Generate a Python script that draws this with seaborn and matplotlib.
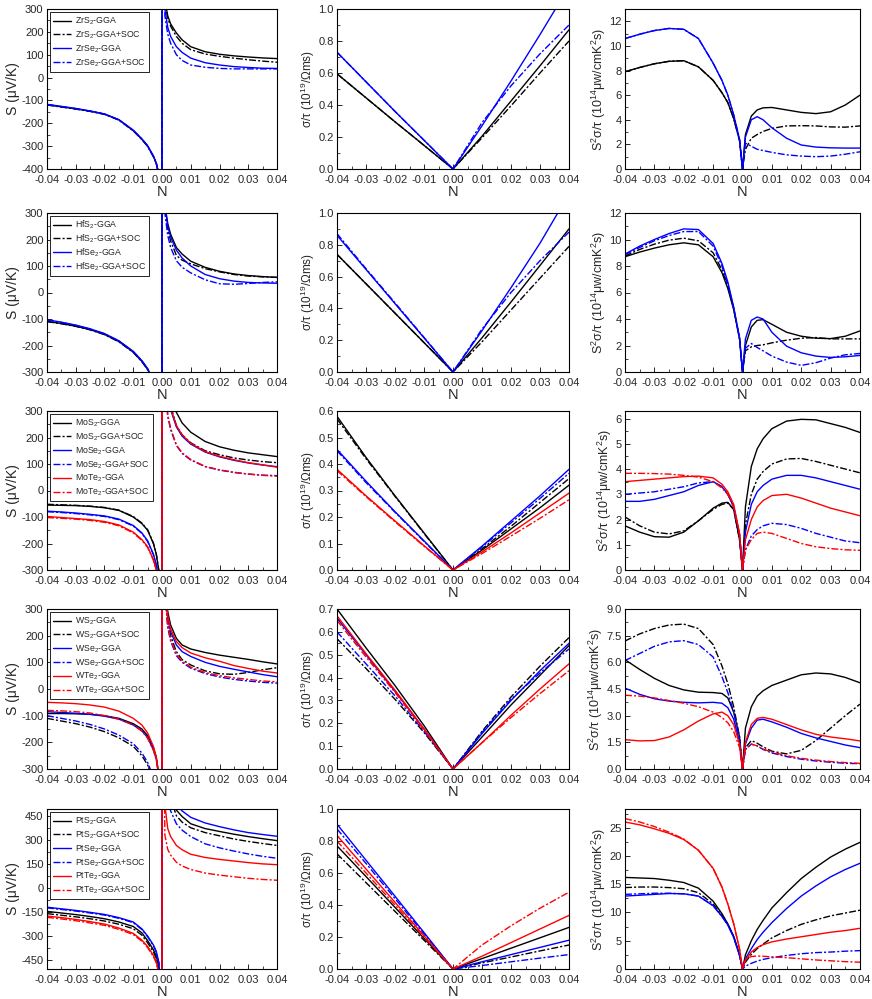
import matplotlib
matplotlib.use('Agg')
import matplotlib.pyplot as plt
import seaborn as sns
from matplotlib.ticker import MultipleLocator, FormatStrFormatter

sns.set_style('ticks')
plt.rcParams['font.family'] = ['Liberation Sans', 'DejaVu Sans']
plt.rcParams['mathtext.fontset'] = 'custom'
plt.rcParams['mathtext.rm'] = 'Liberation Sans'
plt.rcParams['mathtext.it'] = 'Liberation Sans:italic'
plt.rcParams['axes.linewidth'] = 0.8

# ---------------- carrier concentration grids (N) ----------------
n_seebeck = [-0.04, -0.035, -0.03, -0.025, -0.02, -0.015, -0.01, -0.007, -0.005, -0.003, -0.002, -0.001, 0.0,
             0.0, 0.001, 0.002, 0.003, 0.005, 0.007, 0.01, 0.015, 0.02, 0.025, 0.03, 0.035, 0.04]
n_sigma = [-0.04, -0.03, -0.02, -0.01, 0.0, 0.01, 0.02, 0.03, 0.04]
n_pf = [-0.04, -0.035, -0.03, -0.025, -0.02, -0.015, -0.01, -0.007, -0.005, -0.003, -0.001, 0.0,
        0.001, 0.003, 0.005, 0.007, 0.01, 0.015, 0.02, 0.025, 0.03, 0.035, 0.04]

# ---------------- Zr ----------------
zr_S = {
    'ZrS$_2$-GGA': [-119, -128, -137, -147, -160, -185, -232, -270, -300, -345, -375, -430, -2000,
                    2000, 340, 270, 235, 195, 165, 135, 113, 102, 95, 90, 86, 83],
    'ZrS$_2$-GGA+SOC': [-120, -129, -138, -148, -161, -186, -233, -271, -301, -346, -376, -431, -2000,
                        2000, 330, 260, 225, 180, 150, 122, 103, 93, 85, 78, 72, 67],
    'ZrSe$_2$-GGA': [-117, -126, -135, -146, -159, -184, -230, -268, -298, -343, -373, -428, -2000,
                     2000, 300, 220, 180, 135, 110, 85, 65, 55, 48, 44, 41, 40],
    'ZrSe$_2$-GGA+SOC': [-118, -127, -136, -147, -160, -185, -231, -269, -299, -344, -374, -429, -2000,
                         2000, 270, 190, 150, 100, 75, 55, 45, 40, 38, 38, 38, 38],
}
zr_sig = {
    'ZrS$_2$-GGA': [0.595, 0.445, 0.295, 0.148, 0, 0.205, 0.425, 0.645, 0.87],
    'ZrS$_2$-GGA+SOC': [0.595, 0.445, 0.295, 0.148, 0, 0.195, 0.395, 0.60, 0.80],
    'ZrSe$_2$-GGA': [0.73, 0.545, 0.36, 0.18, 0, 0.27, 0.55, 0.84, 1.14],
    'ZrSe$_2$-GGA+SOC': [0.73, 0.545, 0.36, 0.18, 0, 0.29, 0.52, 0.72, 0.90],
}
zr_pf = {
    'ZrS$_2$-GGA': [7.9, 8.25, 8.55, 8.75, 8.8, 8.3, 7.2, 6.2, 5.4, 4.1, 2.3, 0,
                    2.8, 4.3, 4.8, 4.97, 5.0, 4.8, 4.6, 4.5, 4.65, 5.2, 6.0],
    'ZrS$_2$-GGA+SOC': [7.9, 8.25, 8.55, 8.75, 8.8, 8.3, 7.2, 6.2, 5.4, 4.1, 2.3, 0,
                        1.6, 2.5, 2.8, 3.05, 3.3, 3.5, 3.52, 3.5, 3.42, 3.4, 3.5],
    'ZrSe$_2$-GGA': [10.6, 10.95, 11.25, 11.42, 11.35, 10.6, 8.6, 7.2, 6.0, 4.4, 2.4, 0,
                     2.6, 4.0, 4.25, 4.0, 3.35, 2.5, 1.95, 1.78, 1.72, 1.7, 1.7],
    'ZrSe$_2$-GGA+SOC': [10.6, 10.95, 11.25, 11.42, 11.35, 10.6, 8.6, 7.2, 6.0, 4.4, 2.4, 0,
                         2.1, 1.85, 1.6, 1.5, 1.35, 1.15, 1.05, 1.0, 1.05, 1.2, 1.4],
}

# ---------------- Hf ----------------
hf_S = {
    'HfS$_2$-GGA': [-109, -117, -127, -140, -158, -185, -225, -260, -290, -335, -370, -430, -2000,
                    2000, 330, 260, 220, 170, 145, 118, 95, 80, 70, 64, 60, 57],
    'HfS$_2$-GGA+SOC': [-110, -118, -128, -141, -159, -186, -226, -261, -291, -336, -371, -431, -2000,
                        2000, 320, 240, 195, 140, 122, 108, 90, 78, 68, 62, 59, 57],
    'HfSe$_2$-GGA': [-103, -112, -123, -137, -155, -182, -222, -257, -287, -332, -367, -427, -2000,
                     2000, 330, 250, 210, 160, 130, 100, 68, 52, 43, 38, 36, 35],
    'HfSe$_2$-GGA+SOC': [-104, -113, -124, -138, -156, -183, -223, -258, -288, -333, -368, -428, -2000,
                         2000, 300, 215, 170, 120, 95, 74, 48, 33, 31, 34, 38, 40],
}
hf_sig = {
    'HfS$_2$-GGA': [0.74, 0.555, 0.37, 0.185, 0, 0.215, 0.44, 0.67, 0.90],
    'HfS$_2$-GGA+SOC': [0.74, 0.555, 0.37, 0.185, 0, 0.19, 0.39, 0.59, 0.79],
    'HfSe$_2$-GGA': [0.86, 0.645, 0.43, 0.215, 0, 0.26, 0.53, 0.81, 1.12],
    'HfSe$_2$-GGA+SOC': [0.87, 0.65, 0.435, 0.218, 0, 0.27, 0.50, 0.70, 0.88],
}
hf_pf = {
    'HfS$_2$-GGA': [8.7, 9.05, 9.35, 9.6, 9.75, 9.6, 8.7, 7.5, 6.3, 4.7, 2.5, 0,
                    2.0, 3.4, 3.9, 3.95, 3.6, 3.0, 2.7, 2.55, 2.52, 2.7, 3.1],
    'HfS$_2$-GGA+SOC': [8.75, 9.25, 9.65, 9.95, 10.1, 9.9, 9.0, 7.7, 6.5, 4.8, 2.5, 0,
                        1.6, 1.9, 2.0, 2.05, 2.2, 2.4, 2.55, 2.6, 2.5, 2.5, 2.5],
    'HfSe$_2$-GGA': [8.9, 9.5, 10.0, 10.45, 10.8, 10.75, 9.7, 8.2, 6.8, 4.9, 2.6, 0,
                     2.5, 3.9, 4.15, 4.0, 3.0, 1.95, 1.45, 1.2, 1.1, 1.15, 1.25],
    'HfSe$_2$-GGA+SOC': [8.85, 9.4, 9.9, 10.3, 10.6, 10.6, 9.5, 8.0, 6.6, 4.8, 2.5, 0,
                         1.8, 2.15, 1.85, 1.6, 1.2, 0.75, 0.5, 0.7, 1.05, 1.3, 1.4],
}

# ---------------- Mo ----------------
mo_S = {
    'MoS$_2$-GGA': [-55, -56, -57, -60, -65, -75, -100, -125, -150, -200, -240, -310, -2000,
                    2000, 600, 450, 380, 295, 255, 220, 185, 165, 152, 142, 135, 128],
    'MoS$_2$-GGA+SOC': [-52, -54, -56, -59, -64, -74, -98, -123, -148, -198, -238, -308, -2000,
                        2000, 550, 380, 320, 245, 210, 180, 150, 135, 123, 115, 109, 105],
    'MoSe$_2$-GGA': [-78, -81, -85, -90, -96, -108, -132, -160, -190, -240, -280, -350, -2000,
                     2000, 500, 360, 305, 240, 205, 175, 145, 127, 114, 104, 96, 90],
    'MoSe$_2$-GGA+SOC': [-80, -83, -87, -92, -98, -110, -134, -162, -192, -242, -282, -352, -2000,
                         2000, 400, 280, 230, 170, 140, 115, 90, 77, 68, 62, 58, 56],
    'MoTe$_2$-GGA': [-98, -102, -106, -110, -117, -130, -157, -185, -212, -260, -300, -370, -2000,
                     2000, 510, 365, 310, 245, 210, 178, 147, 129, 116, 105, 97, 88],
    'MoTe$_2$-GGA+SOC': [-102, -105, -108, -113, -120, -133, -160, -188, -215, -263, -303, -373, -2000,
                         2000, 410, 285, 235, 172, 142, 117, 91, 78, 69, 62, 57, 54],
}
mo_sig = {
    'MoS$_2$-GGA': [0.58, 0.425, 0.28, 0.14, 0, 0.075, 0.155, 0.235, 0.32],
    'MoS$_2$-GGA+SOC': [0.57, 0.42, 0.278, 0.138, 0, 0.08, 0.165, 0.255, 0.345],
    'MoSe$_2$-GGA': [0.455, 0.335, 0.22, 0.11, 0, 0.09, 0.185, 0.28, 0.38],
    'MoSe$_2$-GGA+SOC': [0.45, 0.33, 0.218, 0.108, 0, 0.087, 0.178, 0.27, 0.365],
    'MoTe$_2$-GGA': [0.38, 0.28, 0.185, 0.092, 0, 0.068, 0.14, 0.215, 0.29],
    'MoTe$_2$-GGA+SOC': [0.375, 0.277, 0.182, 0.09, 0, 0.062, 0.128, 0.195, 0.265],
}
mo_pf = {
    'MoS$_2$-GGA': [1.75, 1.5, 1.32, 1.3, 1.5, 1.95, 2.45, 2.65, 2.68, 2.4, 1.2, 0,
                    2.5, 4.1, 4.8, 5.2, 5.6, 5.9, 5.97, 5.95, 5.8, 5.65, 5.45],
    'MoS$_2$-GGA+SOC': [2.1, 1.75, 1.5, 1.43, 1.55, 1.95, 2.4, 2.6, 2.65, 2.4, 1.2, 0,
                        1.8, 3.0, 3.6, 3.9, 4.2, 4.4, 4.42, 4.3, 4.15, 4.0, 3.85],
    'MoSe$_2$-GGA': [2.72, 2.72, 2.8, 2.95, 3.1, 3.35, 3.5, 3.3, 3.0, 2.5, 1.4, 0,
                     1.5, 2.6, 3.1, 3.35, 3.6, 3.75, 3.75, 3.65, 3.5, 3.35, 3.2],
    'MoSe$_2$-GGA+SOC': [3.0, 3.05, 3.1, 3.2, 3.3, 3.45, 3.5, 3.3, 3.0, 2.5, 1.4, 0,
                         0.8, 1.35, 1.6, 1.75, 1.85, 1.8, 1.65, 1.45, 1.3, 1.15, 1.08],
    'MoTe$_2$-GGA': [3.5, 3.55, 3.6, 3.65, 3.7, 3.72, 3.65, 3.4, 3.1, 2.6, 1.45, 0,
                     1.2, 2.0, 2.5, 2.75, 2.95, 3.0, 2.85, 2.65, 2.45, 2.3, 2.15],
    'MoTe$_2$-GGA+SOC': [3.83, 3.83, 3.82, 3.8, 3.75, 3.68, 3.5, 3.25, 3.0, 2.5, 1.4, 0,
                         0.8, 1.2, 1.45, 1.5, 1.45, 1.25, 1.05, 0.92, 0.85, 0.8, 0.78],
}

# ---------------- W ----------------
w_S = {
    'WS$_2$-GGA': [-92, -92, -93, -95, -100, -110, -130, -150, -175, -220, -255, -330, -2000,
                   2000, 400, 290, 240, 190, 165, 150, 137, 127, 119, 111, 102, 94],
    'WS$_2$-GGA+SOC': [-110, -120, -130, -143, -160, -183, -215, -250, -285, -340, -380, -450, -2000,
                       2000, 380, 250, 200, 140, 110, 90, 68, 57, 55, 62, 72, 80],
    'WSe$_2$-GGA': [-85, -88, -91, -95, -102, -113, -135, -157, -182, -228, -262, -335, -2000,
                    2000, 380, 265, 215, 165, 140, 122, 100, 85, 74, 64, 54, 46],
    'WSe$_2$-GGA+SOC': [-100, -110, -120, -133, -150, -173, -205, -240, -275, -330, -370, -440, -2000,
                        2000, 360, 230, 180, 125, 100, 78, 58, 45, 36, 30, 25, 22],
    'WTe$_2$-GGA': [-50, -52, -55, -60, -68, -83, -110, -135, -165, -215, -255, -330, -2000,
                    2000, 390, 275, 225, 178, 155, 135, 117, 104, 88, 77, 67, 60],
    'WTe$_2$-GGA+SOC': [-80, -82, -85, -90, -100, -113, -135, -158, -185, -230, -265, -338, -2000,
                        2000, 365, 235, 185, 130, 104, 82, 62, 50, 42, 36, 30, 27],
}
w_sig = {
    'WS$_2$-GGA': [0.70, 0.53, 0.365, 0.19, 0, 0.14, 0.28, 0.41, 0.54],
    'WS$_2$-GGA+SOC': [0.57, 0.44, 0.305, 0.16, 0, 0.165, 0.315, 0.45, 0.575],
    'WSe$_2$-GGA': [0.66, 0.50, 0.34, 0.175, 0, 0.155, 0.30, 0.43, 0.55],
    'WSe$_2$-GGA+SOC': [0.60, 0.46, 0.32, 0.165, 0, 0.16, 0.305, 0.42, 0.525],
    'WTe$_2$-GGA': [0.67, 0.505, 0.345, 0.175, 0, 0.115, 0.235, 0.35, 0.46],
    'WTe$_2$-GGA+SOC': [0.65, 0.49, 0.335, 0.17, 0, 0.115, 0.225, 0.33, 0.43],
}
w_pf = {
    'WS$_2$-GGA': [6.15, 5.6, 5.1, 4.7, 4.45, 4.32, 4.3, 4.25, 4.0, 3.2, 1.8, 0,
                   2.3, 3.5, 4.1, 4.4, 4.7, 5.0, 5.3, 5.4, 5.35, 5.15, 4.85],
    'WS$_2$-GGA+SOC': [7.2, 7.6, 7.9, 8.1, 8.15, 7.9, 7.0, 5.8, 4.8, 3.5, 1.8, 0,
                       1.2, 1.6, 1.45, 1.25, 1.0, 0.85, 1.05, 1.6, 2.3, 3.0, 3.65],
    'WSe$_2$-GGA': [4.55, 4.2, 3.95, 3.82, 3.75, 3.72, 3.75, 3.7, 3.45, 2.8, 1.5, 0,
                    1.4, 2.3, 2.75, 2.8, 2.65, 2.35, 2.0, 1.75, 1.55, 1.35, 1.2],
    'WSe$_2$-GGA+SOC': [6.1, 6.5, 6.9, 7.15, 7.22, 7.0, 6.3, 5.2, 4.3, 3.2, 1.7, 0,
                        1.1, 1.4, 1.3, 1.1, 0.9, 0.7, 0.55, 0.45, 0.38, 0.32, 0.3],
    'WTe$_2$-GGA': [1.65, 1.58, 1.6, 1.8, 2.2, 2.7, 3.1, 3.2, 3.0, 2.5, 1.4, 0,
                    1.5, 2.5, 2.85, 2.9, 2.8, 2.5, 2.2, 1.95, 1.8, 1.7, 1.58],
    'WTe$_2$-GGA+SOC': [4.15, 4.1, 4.0, 3.85, 3.7, 3.5, 3.2, 2.9, 2.6, 2.1, 1.2, 0,
                        1.1, 1.4, 1.3, 1.12, 0.95, 0.75, 0.6, 0.5, 0.42, 0.36, 0.32],
}

# ---------------- Pt ----------------
pt_S = {
    'PtS$_2$-GGA': [-146, -156, -166, -178, -192, -212, -240, -280, -328, -385, -425, -500, -2000,
                    2000, 900, 700, 600, 485, 445, 400, 370, 352, 335, 320, 307, 295],
    'PtS$_2$-GGA+SOC': [-160, -170, -180, -192, -206, -226, -254, -294, -342, -398, -438, -515, -2000,
                        2000, 850, 650, 560, 450, 410, 375, 345, 325, 305, 290, 277, 265],
    'PtSe$_2$-GGA': [-120, -130, -140, -152, -165, -185, -212, -255, -300, -355, -395, -470, -2000,
                     2000, 950, 750, 640, 515, 480, 440, 405, 382, 362, 345, 333, 322],
    'PtSe$_2$-GGA+SOC': [-124, -134, -144, -156, -169, -189, -216, -259, -304, -360, -400, -475, -2000,
                         2000, 750, 560, 480, 400, 360, 320, 275, 250, 230, 212, 197, 185],
    'PtTe$_2$-GGA': [-175, -185, -196, -210, -225, -250, -283, -325, -365, -420, -460, -540, -2000,
                     2000, 520, 370, 320, 265, 238, 210, 190, 178, 168, 158, 150, 145],
    'PtTe$_2$-GGA+SOC': [-183, -193, -204, -218, -233, -258, -290, -332, -372, -427, -467, -547, -2000,
                         2000, 330, 240, 205, 160, 137, 115, 93, 80, 70, 60, 53, 48],
}
pt_sig = {
    'PtS$_2$-GGA': [0.77, 0.578, 0.385, 0.192, 0, 0.065, 0.13, 0.195, 0.26],
    'PtS$_2$-GGA+SOC': [0.72, 0.54, 0.36, 0.18, 0, 0.038, 0.075, 0.113, 0.15],
    'PtSe$_2$-GGA': [0.905, 0.68, 0.455, 0.228, 0, 0.045, 0.09, 0.135, 0.18],
    'PtSe$_2$-GGA+SOC': [0.875, 0.66, 0.44, 0.22, 0, 0.022, 0.045, 0.068, 0.09],
    'PtTe$_2$-GGA': [0.835, 0.625, 0.417, 0.208, 0, 0.08, 0.165, 0.25, 0.335],
    'PtTe$_2$-GGA+SOC': [0.80, 0.60, 0.40, 0.20, 0, 0.15, 0.27, 0.38, 0.48],
}
pt_pf = {
    'PtS$_2$-GGA': [16.2, 16.1, 16.0, 15.7, 15.3, 14.3, 12.0, 9.8, 8.0, 5.8, 2.5, 0,
                    2.5, 5.0, 7.0, 8.6, 10.8, 13.5, 16.0, 18.0, 19.8, 21.2, 22.4],
    'PtS$_2$-GGA+SOC': [14.4, 14.5, 14.5, 14.4, 14.2, 13.5, 11.5, 9.5, 7.9, 5.7, 2.5, 0,
                        1.2, 2.6, 3.6, 4.4, 5.5, 6.8, 7.9, 8.7, 9.4, 9.9, 10.4],
    'PtSe$_2$-GGA': [12.9, 13.05, 13.2, 13.35, 13.3, 12.9, 11.2, 9.3, 7.8, 5.6, 2.4, 0,
                     1.8, 3.6, 5.2, 6.5, 8.2, 10.7, 12.9, 14.7, 16.3, 17.6, 18.7],
    'PtSe$_2$-GGA+SOC': [13.2, 13.3, 13.4, 13.4, 13.3, 12.9, 11.2, 9.3, 7.8, 5.6, 2.4, 0,
                         0.5, 1.0, 1.4, 1.7, 2.0, 2.4, 2.7, 2.9, 3.0, 3.15, 3.25],
    'PtTe$_2$-GGA': [26.0, 25.5, 24.8, 24.0, 22.9, 21.0, 17.8, 14.5, 11.5, 8.0, 3.5, 0,
                     1.5, 3.0, 3.8, 4.3, 4.8, 5.3, 5.7, 6.1, 6.5, 6.8, 7.2],
    'PtTe$_2$-GGA+SOC': [26.6, 26.0, 25.2, 24.2, 23.0, 21.0, 17.8, 14.5, 11.5, 8.0, 3.5, 0,
                         1.8, 2.2, 2.3, 2.25, 2.15, 2.0, 1.8, 1.6, 1.45, 1.3, 1.2],
}

# ---------------- styling ----------------
soc_dash = (0, (5, 1.5, 1.5, 1.5))
styles = [('black', '-'), ('black', soc_dash), ('#0000ff', '-'), ('#0000ff', soc_dash),
          ('#ff0000', '-'), ('#ff0000', soc_dash)]

rows = [(zr_S, zr_sig, zr_pf), (hf_S, hf_sig, hf_pf), (mo_S, mo_sig, mo_pf),
        (w_S, w_sig, w_pf), (pt_S, pt_sig, pt_pf)]

# y-axis settings per row: (lim, major, minor, fmt)
s_axis = [((-400, 300), 100, 50, '%d'), ((-300, 300), 100, 50, '%d'), ((-300, 300), 100, 50, '%d'),
          ((-300, 300), 100, 50, '%d'), ((-505, 492), 150, 75, '%d')]
sig_axis = [((0, 1.0), 0.2, 0.1, '%.1f'), ((0, 1.0), 0.2, 0.1, '%.1f'), ((0, 0.6), 0.1, 0.05, '%.1f'),
            ((0, 0.7), 0.1, 0.05, '%.1f'), ((0, 1.0), 0.2, 0.1, '%.1f')]
pf_axis = [((0, 13), 2, 1, '%d'), ((0, 12), 2, 1, '%d'), ((0, 6.3), 1, 0.5, '%d'),
           ((0, 9), 1.5, 0.75, '%.1f'), ((0, 28.3), 5, 2.5, '%d')]

W, H = 872, 999
col_px = [(47, 277), (337, 569), (625, 860)]
row_px = [(9, 169), (213, 372), (411, 570), (609, 769), (809, 969)]

ylabels = ['S (μV/K)', 'σ/τ (10$^{19}$/Ωms)', 'S$^2$σ/τ (10$^{14}$μw/cmK$^2$s)']
ylabel_size = [10, 8.5, 9]

fig = plt.figure(figsize=(W / 100, H / 100), dpi=100)


def style_axis(ax, yset, ylabel, ysize):
    lim, major, minor, fmt = yset
    ax.set_xlim(-0.04, 0.04)
    ax.set_ylim(*lim)
    ax.xaxis.set_major_locator(MultipleLocator(0.01))
    ax.xaxis.set_minor_locator(MultipleLocator(0.005))
    ax.xaxis.set_major_formatter(FormatStrFormatter('%.2f'))
    ax.yaxis.set_major_locator(MultipleLocator(major))
    ax.yaxis.set_minor_locator(MultipleLocator(minor))
    ax.yaxis.set_major_formatter(FormatStrFormatter(fmt))
    ax.tick_params(which='both', direction='in', top=False, right=False, labelsize=8)
    ax.tick_params(axis='x', pad=4)
    ax.tick_params(axis='y', pad=2.5)
    ax.tick_params(which='major', length=3.5, width=0.7)
    ax.tick_params(which='minor', length=2, width=0.6)
    ax.set_xlabel('N', fontsize=10.5, labelpad=0)
    ax.set_ylabel(ylabel, fontsize=ysize, labelpad=1)
    for sp in ax.spines.values():
        sp.set_visible(True)
        sp.set_color('black')


for r, (dS, dsig, dpf) in enumerate(rows):
    y0, y1 = row_px[r]
    panels = [(dS, n_seebeck, s_axis[r]), (dsig, n_sigma, sig_axis[r]), (dpf, n_pf, pf_axis[r])]
    for c, (data, xs, yset) in enumerate(panels):
        x0, x1 = col_px[c]
        ax = fig.add_axes([x0 / W, 1 - y1 / H, (x1 - x0) / W, (y1 - y0) / H])
        handles = []
        for (label, ys), (color, ls) in zip(data.items(), styles):
            sns.lineplot(x=xs, y=ys, ax=ax, color=color, linestyle=ls, linewidth=1.0,
                         sort=False, estimator=None, legend=False)
            handles.append(ax.lines[-1])
        style_axis(ax, yset, ylabels[c], ylabel_size[c])
        if c == 0:
            leg = ax.legend(handles, list(data.keys()), loc='upper left', fontsize=6.3,
                            frameon=True, fancybox=False, edgecolor='black', framealpha=1,
                            handlelength=2.1, labelspacing=0.15, borderpad=0.35,
                            borderaxespad=0.3, handletextpad=0.45)
            leg.get_frame().set_linewidth(0.6)

fig.savefig('out.png', dpi=100)
